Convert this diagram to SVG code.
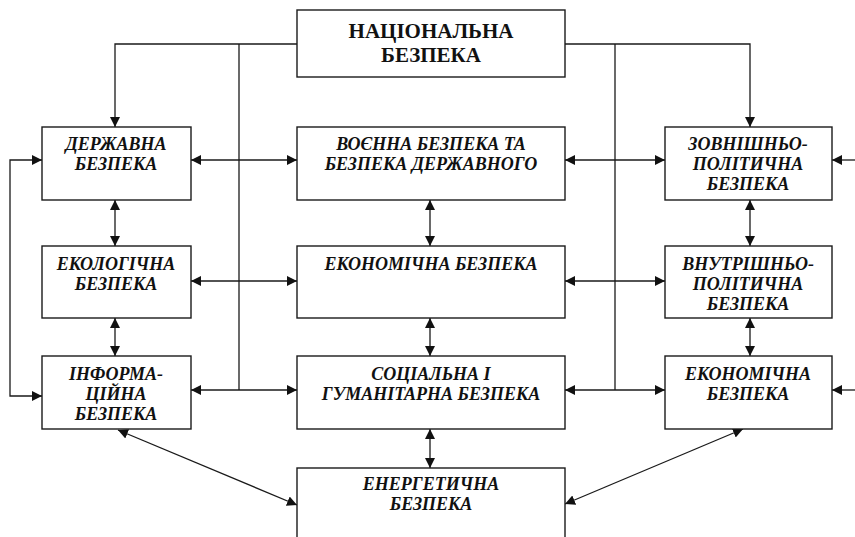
<svg xmlns="http://www.w3.org/2000/svg" width="855" height="537" viewBox="0 0 855 537">
<style>
.box{fill:#fff;stroke:#1a1a1a;stroke-width:1.4}
.t{font-family:"Liberation Serif","Times New Roman",serif;font-weight:bold;font-style:italic;font-size:18px;fill:#111;text-anchor:middle}
.title{font-family:"Liberation Serif","Times New Roman",serif;font-weight:bold;font-size:21px;fill:#111;text-anchor:middle}
.c{fill:none;stroke:#1a1a1a;stroke-width:1.3}
.a2{marker-start:url(#ah);marker-end:url(#ah)}
.a1{marker-end:url(#ah)}
</style>
<defs>
<marker id="ah" viewBox="0 0 10 10" refX="10" refY="5" markerWidth="10" markerHeight="10" markerUnits="userSpaceOnUse" orient="auto-start-reverse">
<path d="M0,0 L10,5 L0,10 z" fill="#111"/>
</marker>
</defs>
<rect width="855" height="537" fill="#fff"/>
<g id="connectors">
<polyline class="c a1" points="297,44 115,44 115,127"/>
<polyline class="c a1" points="565,44 750,44 750,127"/>
<line class="c" x1="239" y1="44" x2="239" y2="390"/>
<line class="c" x1="615" y1="44" x2="615" y2="390"/>
<line class="c a2" x1="191" y1="160" x2="297" y2="160"/>
<line class="c a2" x1="565" y1="160" x2="665" y2="160"/>
<line class="c a2" x1="191" y1="281" x2="297" y2="281"/>
<line class="c a2" x1="565" y1="281" x2="665" y2="281"/>
<line class="c a2" x1="191" y1="390" x2="297" y2="390"/>
<line class="c a2" x1="565" y1="390" x2="665" y2="390"/>
<path class="c a2" d="M42,160 L10,160 L10,396 L42,396"/>
<line class="c a1" x1="855" y1="160" x2="832" y2="160"/>
<line class="c a1" x1="855" y1="390" x2="832" y2="390"/>
<line class="c a2" x1="115" y1="200" x2="115" y2="246"/>
<line class="c a2" x1="115" y1="318" x2="115" y2="356"/>
<line class="c a2" x1="430" y1="200" x2="430" y2="246"/>
<line class="c a2" x1="430" y1="318" x2="430" y2="356"/>
<line class="c a2" x1="430" y1="429" x2="430" y2="468"/>
<line class="c a2" x1="750" y1="200" x2="750" y2="246"/>
<line class="c a2" x1="750" y1="318" x2="750" y2="356"/>
<line class="c a2" x1="118" y1="430" x2="297" y2="505"/>
<line class="c a2" x1="743" y1="429" x2="565" y2="504"/>
</g>
<g id="n-national">
<rect class="box" x="297" y="10" width="268" height="67"/>
<text class="title" x="431" y="38">НАЦІОНАЛЬНА</text>
<text class="title" x="431" y="62">БЕЗПЕКА</text>
</g>
<g id="n-state">
<rect class="box" x="42" y="127" width="149" height="73"/>
<text class="t" x="116" y="150">ДЕРЖАВНА</text>
<text class="t" x="116" y="170">БЕЗПЕКА</text>
</g>
<g id="n-military">
<rect class="box" x="297" y="127" width="268" height="73"/>
<text class="t" x="431" y="150">ВОЄННА БЕЗПЕКА ТА</text>
<text class="t" x="431" y="170">БЕЗПЕКА ДЕРЖАВНОГО</text>
</g>
<g id="n-foreign">
<rect class="box" x="665" y="127" width="167" height="73"/>
<text class="t" x="748" y="150">ЗОВНІШНЬО-</text>
<text class="t" x="748" y="170">ПОЛІТИЧНА</text>
<text class="t" x="748" y="190">БЕЗПЕКА</text>
</g>
<g id="n-ecological">
<rect class="box" x="42" y="246" width="149" height="72"/>
<text class="t" x="116" y="270">ЕКОЛОГІЧНА</text>
<text class="t" x="116" y="290">БЕЗПЕКА</text>
</g>
<g id="n-economic-mid">
<rect class="box" x="297" y="246" width="268" height="72"/>
<text class="t" x="431" y="270">ЕКОНОМІЧНА БЕЗПЕКА</text>
</g>
<g id="n-domestic">
<rect class="box" x="665" y="246" width="167" height="72"/>
<text class="t" x="748" y="270">ВНУТРІШНЬО-</text>
<text class="t" x="748" y="290">ПОЛІТИЧНА</text>
<text class="t" x="748" y="310">БЕЗПЕКА</text>
</g>
<g id="n-info">
<rect class="box" x="42" y="356" width="149" height="73"/>
<text class="t" x="116" y="380">ІНФОРМА-</text>
<text class="t" x="116" y="400">ЦІЙНА</text>
<text class="t" x="116" y="420">БЕЗПЕКА</text>
</g>
<g id="n-social">
<rect class="box" x="297" y="356" width="268" height="73"/>
<text class="t" x="431" y="380">СОЦІАЛЬНА І</text>
<text class="t" x="431" y="400">ГУМАНІТАРНА БЕЗПЕКА</text>
</g>
<g id="n-economic-right">
<rect class="box" x="665" y="356" width="167" height="73"/>
<text class="t" x="748" y="380">ЕКОНОМІЧНА</text>
<text class="t" x="748" y="400">БЕЗПЕКА</text>
</g>
<g id="n-energy">
<rect class="box" x="297" y="468" width="268" height="80"/>
<text class="t" x="431" y="490">ЕНЕРГЕТИЧНА</text>
<text class="t" x="431" y="510">БЕЗПЕКА</text>
</g>
</svg>
